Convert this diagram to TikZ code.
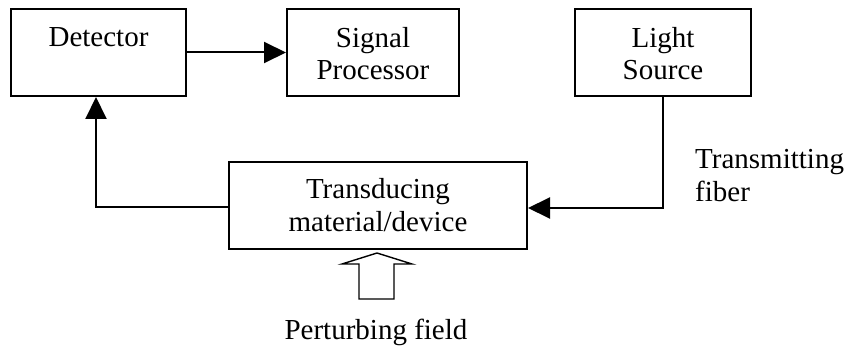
\documentclass[tikz,border=0pt]{standalone}
\usepackage{fontspec}
\setmainfont{Liberation Serif}
\usetikzlibrary{arrows.meta}
\begin{document}
\begin{tikzpicture}[x=1pt,y=-1pt,
  box/.style={draw, line width=2pt, rectangle, inner sep=0pt, minimum height=87pt},
  lbl/.style={anchor=base, inner sep=0pt, font=\fontsize{29}{33}\selectfont},
  lblw/.style={lbl, anchor=base west},
  wire/.style={line width=2pt, -{Triangle[length=22pt,width=21pt]}},
  hollow/.style={draw, line width=1.4pt, line join=miter}]
\useasboundingbox (0,0) rectangle (852,350);

% blocks
\node[box, minimum width=175pt] (det) at (98.5,52.5) {};
\node[box, minimum width=172pt] (sp)  at (373,52.5) {};
\node[box, minimum width=176pt] (ls)  at (663,52.5) {};
\node[box, minimum width=298pt] (td)  at (378,205.5) {};

% block captions
\node[lbl] (detA) at (98.5,47) {Detector};
\node[lbl] (spA)  at (373,48) {Signal};
\node[lbl] (spB)  at (373,80) {Processor};
\node[lbl] (lsA)  at (663,48) {Light};
\node[lbl] (lsB)  at (663,80) {Source};
\node[lbl] (tdA)  at (378,199) {Transducing};
\node[lbl] (tdB)  at (378,232) {material/device};

% free labels
\node[lblw] (fibA) at (695,168) {Transmitting};
\node[lblw] (fibB) at (695,201) {fiber};
\node[lbl]  (pert) at (376,339) {Perturbing field};

% bends of the fibre paths
\coordinate (fb) at (663,208);
\coordinate (rb) at (96,207);

% connectors
\draw[wire] (det.east) -- (sp.west);
\draw[wire] (ls.south) -- (fb) -- (fb -| td.east);
\draw[wire] (td.west |- rb) -- (rb) -- (rb |- det.south);

% perturbing field (hollow block arrow)
\draw[hollow] (377,253) -- (412,264) -- (394,264) -- (394,299)
  -- (359,299) -- (359,264) -- (342,264) -- cycle;
\end{tikzpicture}
\end{document}
